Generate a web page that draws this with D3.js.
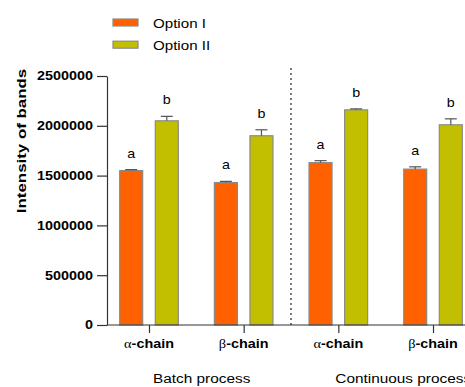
<!DOCTYPE html>
<html>
<head>
<meta charset="utf-8">
<script src="https://cdn.jsdelivr.net/npm/d3@7"></script>
<style>
  html, body { margin: 0; padding: 0; background: #fff; }
  svg { display: block; font-family: "Liberation Sans", Arial, sans-serif; }
</style>
</head>
<body>
<svg id="chart" width="465" height="387"></svg>
<script>
// Band intensity per chain, two options, two processes
const categories = ["Batch α", "Batch β", "Continuous α", "Continuous β"];
const chainSymbols = ["α", "β", "α", "β"];
const processes = ["Batch process", "Continuous process"];
const seriesNames = ["Option I", "Option II"];
const optionI = [1550000, 1430000, 1630000, 1565000];
const optionIErr = [10000, 12000, 20000, 23000];
const optionII = [2050000, 1900000, 2160000, 2010000];
const optionIIErr = [45000, 60000, 10000, 60000];
const lettersI = ["a", "a", "a", "a"];
const lettersII = ["b", "b", "b", "b"];
const yTicks = [0, 500000, 1000000, 1500000, 2000000, 2500000];

const colors = { "Option I": "#ff6100", "Option II": "#c2bf00" };
const barStroke = "#8a8a8a";
const axisColor = "#333";

const svg = d3.select("#chart");

const y = d3.scaleLinear().domain([0, 2500000]).range([325, 76]);
const x0 = d3.scalePoint().domain(categories).range([149, 433]);
const x1 = d3.scaleBand().domain(seriesNames).range([-29.3, 29.3]).paddingInner(0.354);

const rows = categories.map((c, i) => ({
  cat: c,
  bars: [
    { name: "Option I", value: optionI[i], err: optionIErr[i], letter: lettersI[i] },
    { name: "Option II", value: optionII[i], err: optionIIErr[i], letter: lettersII[i] }
  ]
}));

// Y axis
const yAxis = svg.append("g")
  .attr("transform", "translate(107,0)")
  .call(d3.axisLeft(y).tickValues(yTicks).tickSize(10).tickSizeOuter(0).tickPadding(4).tickFormat(d3.format("d")));
yAxis.select(".domain").attr("stroke", axisColor).attr("stroke-width", 1.2);
yAxis.selectAll(".tick line").attr("stroke", axisColor).attr("stroke-width", 1.2);
yAxis.selectAll(".tick text")
  .attr("x", 0)
  .attr("text-anchor", "end")
  .attr("transform", "translate(-14,0) scale(1.2,1)")
  .attr("font-size", 12)
  .attr("font-weight", "bold")
  .attr("font-family", "Liberation Sans, Arial, sans-serif")
  .attr("fill", "#000");

// Y axis title
svg.append("text")
  .attr("transform", "translate(26,141) rotate(-90) scale(1.25,1)")
  .attr("text-anchor", "middle")
  .attr("font-size", 13.5)
  .attr("font-weight", "bold")
  .text("Intensity of bands");

// Dotted separator between the two processes
const sepX = (x0(categories[1]) + x0(categories[2])) / 2;
svg.append("line")
  .attr("x1", sepX).attr("x2", sepX)
  .attr("y1", 68).attr("y2", y(0))
  .attr("stroke", "#222").attr("stroke-width", 1.2)
  .attr("stroke-dasharray", "2,3");

// Bars
const groups = svg.append("g").selectAll("g")
  .data(rows).join("g")
  .attr("transform", d => `translate(${x0(d.cat)},0)`);

groups.selectAll("rect")
  .data(d => d.bars).join("rect")
  .attr("x", d => x1(d.name))
  .attr("y", d => y(d.value))
  .attr("width", x1.bandwidth())
  .attr("height", d => y(0) - y(d.value))
  .attr("fill", d => colors[d.name])
  .attr("stroke", barStroke)
  .attr("stroke-width", 1.2);

// Upper error bars
const errG = groups.selectAll("g.err")
  .data(d => d.bars).join("g").attr("class", "err");
errG.append("line")
  .attr("x1", d => x1(d.name) + x1.bandwidth() / 2)
  .attr("x2", d => x1(d.name) + x1.bandwidth() / 2)
  .attr("y1", d => y(d.value))
  .attr("y2", d => y(d.value + d.err))
  .attr("stroke", "#555").attr("stroke-width", 1.2);
errG.append("line")
  .attr("x1", d => x1(d.name) + x1.bandwidth() / 2 - 6)
  .attr("x2", d => x1(d.name) + x1.bandwidth() / 2 + 6)
  .attr("y1", d => y(d.value + d.err))
  .attr("y2", d => y(d.value + d.err))
  .attr("stroke", "#555").attr("stroke-width", 1.2);

// Significance letters
groups.selectAll("text.letter")
  .data(d => d.bars).join("text").attr("class", "letter")
  .attr("transform", d => `translate(${x1(d.name) + x1.bandwidth() / 2},${y(d.value + d.err) - 12}) scale(1.1,1)`)
  .attr("text-anchor", "middle")
  .attr("font-size", 13)
  .text(d => d.letter);

// X axis baseline and category ticks
svg.append("line")
  .attr("x1", 107).attr("x2", 465)
  .attr("y1", y(0)).attr("y2", y(0))
  .attr("stroke", axisColor).attr("stroke-width", 1.2);
const xAxis = svg.append("g")
  .attr("transform", `translate(0,${y(0)})`)
  .call(d3.axisBottom(x0).tickSize(8).tickSizeOuter(0).tickFormat(""));
xAxis.select(".domain").remove();
xAxis.selectAll(".tick line").attr("stroke", axisColor).attr("stroke-width", 1.2);

// Category labels: Greek symbol + bold "-chain"
const catLabels = svg.append("g").selectAll("text")
  .data(categories).join("text")
  .attr("transform", d => `translate(${x0(d)},348) scale(1.15,1)`)
  .attr("text-anchor", "middle")
  .attr("font-size", 12.5);
catLabels.append("tspan")
  .attr("font-family", "Liberation Serif, Times New Roman, serif")
  .text((d, i) => chainSymbols[i]);
catLabels.append("tspan")
  .attr("font-weight", "bold")
  .text("-chain");

// Process labels
const processStart = [x0(categories[0]) + 4, x0(categories[2]) - 3];
svg.append("g").selectAll("text")
  .data(processes).join("text")
  .attr("transform", (d, i) => `translate(${processStart[i]},383) scale(1.23,1)`)
  .attr("font-size", 12.5)
  .text(d => d);

// Legend
const legend = svg.append("g").selectAll("g")
  .data(seriesNames).join("g")
  .attr("transform", (d, i) => `translate(113,${22.5 + i * 22.2})`);
legend.append("rect")
  .attr("x", 0).attr("y", -3.5)
  .attr("width", 25).attr("height", 7)
  .attr("fill", d => colors[d])
  .attr("stroke", barStroke).attr("stroke-width", 1.2);
legend.append("text")
  .attr("transform", "translate(40,5.5) scale(1.12,1)")
  .attr("font-size", 13.5)
  .text(d => d);
</script>
</body>
</html>
